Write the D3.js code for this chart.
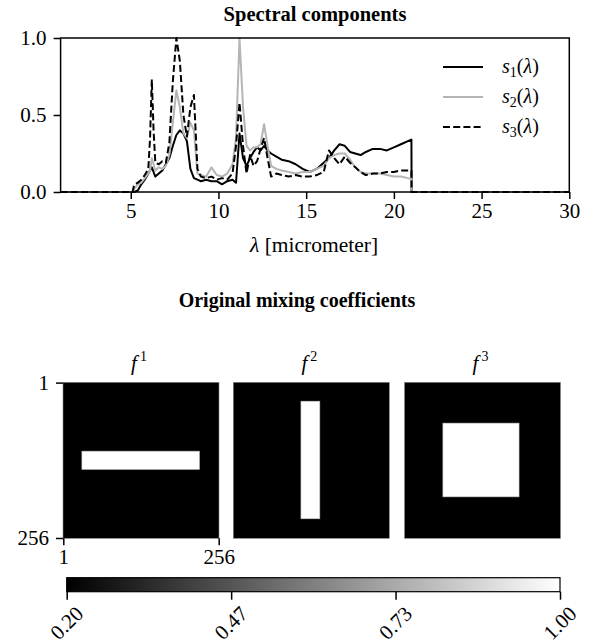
<!DOCTYPE html>
<html><head><meta charset="utf-8">
<script src="https://cdn.jsdelivr.net/npm/d3@7"></script>
<style>
body{margin:0;background:#fff;}
svg{display:block;font-family:"Liberation Serif","Times New Roman",serif;}
</style></head>
<body><svg id="c" width="594" height="644"></svg>
<script>
// ---- data ----
const wavelength = [1, 5.1, 5.2, 5.4, 5.6, 5.8, 6.0, 6.1, 6.2, 6.3, 6.4, 6.6, 6.8, 7.0, 7.2, 7.4, 7.6, 7.8, 8.0, 8.2, 8.4, 8.6, 8.8, 9.0, 9.3, 9.6, 9.9, 10.2, 10.5, 10.8, 11.0, 11.2, 11.4, 11.6, 11.8, 12.0, 12.2, 12.4, 12.6, 12.8, 13.0, 13.3, 13.6, 14.0, 14.4, 14.8, 15.2, 15.6, 16.0, 16.3, 16.6, 16.9, 17.2, 17.5, 17.8, 18.1, 18.4, 18.8, 19.2, 19.6, 20.0, 20.4, 20.8, 21.0, 21.01, 30];
const s1 = [0, 0, 0, 0.01, 0.05, 0.08, 0.12, 0.14, 0.16, 0.13, 0.10, 0.12, 0.14, 0.18, 0.22, 0.30, 0.37, 0.40, 0.38, 0.33, 0.15, 0.09, 0.08, 0.07, 0.08, 0.07, 0.07, 0.05, 0.07, 0.08, 0.06, 0.38, 0.22, 0.17, 0.22, 0.26, 0.29, 0.27, 0.30, 0.27, 0.25, 0.23, 0.21, 0.20, 0.18, 0.15, 0.13, 0.15, 0.19, 0.22, 0.27, 0.31, 0.30, 0.26, 0.25, 0.24, 0.26, 0.28, 0.28, 0.27, 0.29, 0.31, 0.33, 0.34, 0, 0];
const s2 = [0, 0, 0.02, 0.05, 0.06, 0.09, 0.12, 0.14, 0.22, 0.18, 0.14, 0.16, 0.15, 0.17, 0.24, 0.45, 0.66, 0.55, 0.38, 0.35, 0.45, 0.40, 0.12, 0.11, 0.10, 0.16, 0.11, 0.10, 0.12, 0.18, 0.35, 1.0, 0.55, 0.30, 0.27, 0.29, 0.29, 0.31, 0.44, 0.30, 0.17, 0.15, 0.14, 0.13, 0.12, 0.13, 0.13, 0.15, 0.17, 0.22, 0.24, 0.25, 0.25, 0.21, 0.16, 0.13, 0.12, 0.12, 0.12, 0.11, 0.10, 0.10, 0.09, 0.085, 0, 0];
const s3 = [0, 0, 0.05, 0.06, 0.08, 0.11, 0.15, 0.35, 0.73, 0.40, 0.19, 0.18, 0.20, 0.19, 0.32, 0.72, 1.0, 0.85, 0.50, 0.36, 0.55, 0.63, 0.15, 0.10, 0.09, 0.10, 0.08, 0.09, 0.08, 0.12, 0.30, 0.58, 0.30, 0.12, 0.24, 0.17, 0.20, 0.28, 0.35, 0.22, 0.10, 0.12, 0.11, 0.10, 0.11, 0.10, 0.10, 0.11, 0.13, 0.27, 0.22, 0.18, 0.23, 0.19, 0.16, 0.13, 0.11, 0.12, 0.12, 0.13, 0.13, 0.14, 0.14, 0.14, 0, 0];
const xTicks = [5, 10, 15, 20, 25, 30];
const yTicks = [0, 0.5, 1.0];
const seriesNames = ["1", "2", "3"];

// mixing coefficient maps: background value and one bright rectangle each (pixel index bounds, 1..256)
const mapNames = ["1", "2", "3"];
const mapBackground = [0.2, 0.2, 0.2];
const mapRectCols = [[32, 224], [112, 142], [64, 188]];
const mapRectRows = [[114, 143], [32, 224], [68, 188]];
const mapRectValue = [1.0, 1.0, 1.0];
const mapTicks = [1, 256];
const colorbarTicks = [0.2, 0.4667, 0.7333, 1.0];

// ---- drawing ----
const svg = d3.select("#c");
const FS = 20, TFS = 21;

// Top chart
const x = d3.scaleLinear().domain([1, 30]).range([60.6, 569.3]);
const y = d3.scaleLinear().domain([0, 1]).range([192, 38]);

svg.append("text").attr("x", 315).attr("y", 21).attr("text-anchor", "middle")
  .attr("font-weight", "bold").attr("font-size", 20.5).text("Spectral components");

const styles = [
  {stroke: "#000", dash: null},
  {stroke: "#b5b5b5", dash: null},
  {stroke: "#000", dash: "7,3.2"}
];
const series = [s1, s2, s3];
const line = d3.line().x((d, i) => x(wavelength[i])).y(d => y(d));
series.forEach((s, k) => {
  svg.append("path").datum(s).attr("d", line).attr("fill", "none")
    .attr("stroke", styles[k].stroke).attr("stroke-width", 2)
    .attr("stroke-dasharray", styles[k].dash).attr("stroke-linejoin", "round");
});

function styleAxis(g) {
  g.attr("font-family", null).attr("font-size", null);
  g.select(".domain").remove();
  g.selectAll("line").attr("stroke", "#000").attr("stroke-width", 1.5);
  g.selectAll("text").attr("font-size", TFS).style("font-family", '"Liberation Serif", serif').attr("fill", "#000");
}

const gx = svg.append("g").attr("transform", "translate(0,192)")
  .call(d3.axisBottom(x).tickValues(xTicks).tickSize(7).tickPadding(4).tickFormat(d3.format("d")));
const gy = svg.append("g").attr("transform", "translate(60.6,0)")
  .call(d3.axisLeft(y).tickValues(yTicks).tickSize(7).tickPadding(7).tickFormat(d3.format(".1f")));
styleAxis(gx); styleAxis(gy);
svg.append("rect").attr("x", x(1)).attr("y", y(1)).attr("width", x(30) - x(1)).attr("height", y(0) - y(1))
  .attr("fill", "none").attr("stroke", "#000").attr("stroke-width", 1.5);

svg.append("text").attr("x", 314).attr("y", 252).attr("text-anchor", "middle").attr("font-size", 21.5)
  .call(t => { t.append("tspan").attr("font-style", "italic").text("λ"); t.append("tspan").text(" [micrometer]"); });

// legend
seriesNames.forEach((n, k) => {
  const ly = 67 + k * 30;
  svg.append("line").attr("x1", 443).attr("x2", 483).attr("y1", ly).attr("y2", ly)
    .attr("stroke", styles[k].stroke).attr("stroke-width", 2).attr("stroke-dasharray", styles[k].dash);
  const t = svg.append("text").attr("x", 502).attr("y", ly + 6).attr("font-size", FS);
  t.append("tspan").attr("font-style", "italic").text("s");
  t.append("tspan").attr("font-size", 14).attr("dy", 4).text(n);
  t.append("tspan").attr("dy", -4).text("(");
  t.append("tspan").attr("font-style", "italic").text("λ");
  t.append("tspan").text(")");
});

// Bottom: mixing coefficients
svg.append("text").attr("x", 297).attr("y", 307).attr("text-anchor", "middle")
  .attr("font-weight", "bold").attr("font-size", FS).text("Original mixing coefficients");

const gray = d3.scaleLinear().domain([0.2, 1.0]).range(["#000", "#fff"]).clamp(true);
const mapLeft = [63, 233.3, 404.5];
const mapSize = 156, mapTop = 382.3;
mapNames.forEach((n, k) => {
  const mx = d3.scaleLinear().domain([0.5, 256.5]).range([mapLeft[k], mapLeft[k] + mapSize]);
  const my = d3.scaleLinear().domain([0.5, 256.5]).range([mapTop, mapTop + mapSize]);
  const g = svg.append("g");
  g.append("rect").attr("x", mx(0.5)).attr("y", my(0.5)).attr("width", mx(256.5) - mx(0.5))
    .attr("height", my(256.5) - my(0.5)).attr("fill", gray(mapBackground[k]))
    .attr("stroke", "#888").attr("stroke-width", 0.6);
  const c = mapRectCols[k], r = mapRectRows[k];
  g.append("rect").attr("x", mx(c[0] - 0.5)).attr("y", my(r[0] - 0.5))
    .attr("width", mx(c[1] + 0.5) - mx(c[0] - 0.5)).attr("height", my(r[1] + 0.5) - my(r[0] - 0.5))
    .attr("fill", gray(mapRectValue[k])).attr("stroke", "#bbb").attr("stroke-width", 0.6);
  const ft = svg.append("text").attr("x", mapLeft[k] + mapSize / 2 - 2).attr("y", 370)
    .attr("text-anchor", "middle").attr("font-size", 21);
  ft.append("tspan").attr("font-style", "italic").text("f");
  ft.append("tspan").attr("font-size", 14).attr("dx", 3).attr("dy", -9).text(n);
  if (k === 0) {
    const ax = svg.append("g").attr("transform", `translate(0,${mapTop + mapSize})`)
      .call(d3.axisBottom(mx).tickValues(mapTicks).tickSize(7).tickPadding(4));
    const ay = svg.append("g").attr("transform", `translate(${mapLeft[0]},0)`)
      .call(d3.axisLeft(my).tickValues(mapTicks).tickSize(7).tickPadding(7));
    styleAxis(ax); styleAxis(ay);
  }
});

// colorbar
const cb = d3.scaleLinear().domain([0.2, 1.0]).range([66.7, 560]);
const defs = svg.append("defs");
const grad = defs.append("linearGradient").attr("id", "cbg").attr("x1", "0%").attr("x2", "100%");
grad.append("stop").attr("offset", "0%").attr("stop-color", gray(0.2));
grad.append("stop").attr("offset", "100%").attr("stop-color", gray(1.0));
svg.append("rect").attr("x", cb(0.2)).attr("y", 577.7).attr("width", cb(1.0) - cb(0.2)).attr("height", 14)
  .attr("fill", "url(#cbg)").attr("stroke", "#000").attr("stroke-width", 1.2);
const cba = svg.append("g").attr("transform", "translate(0,591.7)")
  .call(d3.axisBottom(cb).tickValues(colorbarTicks).tickSize(8).tickFormat(() => ""));
cba.select(".domain").remove();
cba.selectAll("line").attr("stroke", "#000").attr("stroke-width", 1.5);
colorbarTicks.forEach(v => {
  svg.append("text").attr("transform", `translate(${cb(v)},623) rotate(-45)`)
    .attr("text-anchor", "middle").attr("dominant-baseline", "central").attr("font-size", TFS)
    .text(d3.format(".2f")(v));
});
</script></body></html>
